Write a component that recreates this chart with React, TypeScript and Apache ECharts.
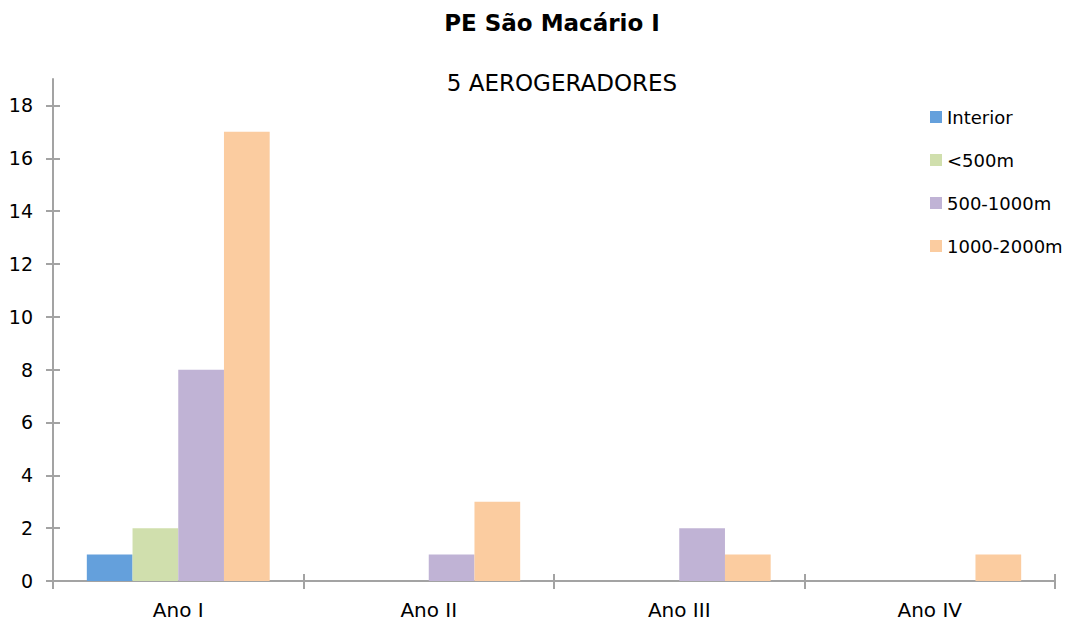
import React, { useEffect, useRef } from "react";
import * as echarts from "echarts";

const categories = ["Ano I", "Ano II", "Ano III", "Ano IV"];
const seriesNames = ["Interior", "<500m", "500-1000m", "1000-2000m"];
const interior = [1, 0, 0, 0];
const under500 = [2, 0, 0, 0];
const from500to1000 = [8, 1, 2, 0];
const from1000to2000 = [17, 3, 1, 1];
const yTicks = [0, 2, 4, 6, 8, 10, 12, 14, 16, 18];
const colors = ["#64a0dc", "#d0dfad", "#c0b3d5", "#fbcca0"];

const FONT = "DejaVu Sans";
const AXIS = "#a3a3a3";

export default function App() {
  const ref = useRef<HTMLDivElement>(null);
  useEffect(() => {
    if (!ref.current) return;
    const chart = echarts.init(ref.current, undefined, { renderer: "svg" });
    const values = [interior, under500, from500to1000, from1000to2000];
    chart.setOption({
      animation: false,
      title: [
        {
          text: "PE São Macário I",
          left: 552,
          textAlign: "center",
          top: 11,
          padding: 0,
          textStyle: { fontFamily: FONT, fontSize: 23, fontWeight: "bold", color: "#000" },
        },
        {
          text: "5 AEROGERADORES",
          left: 562,
          textAlign: "center",
          top: 71,
          padding: 0,
          textStyle: { fontFamily: FONT, fontSize: 23, fontWeight: "normal", color: "#000" },
        },
      ],
      legend: {
        orient: "vertical",
        left: 925,
        top: 103,
        itemWidth: 12,
        itemHeight: 12,
        itemGap: 25,
        icon: "rect",
        data: seriesNames,
        textStyle: { fontFamily: FONT, fontSize: 18, color: "#000" },
      },
      grid: { left: 53, right: 23, top: 79, bottom: 42, containLabel: false },
      xAxis: [
        {
          type: "category",
          data: categories,
          axisLine: { lineStyle: { color: AXIS, width: 2 } },
          axisTick: { show: true, length: 8, lineStyle: { color: AXIS, width: 2 } },
          axisLabel: { fontFamily: FONT, fontSize: 20, color: "#000", margin: 19 },
        },
        {
          type: "category",
          data: categories,
          position: "bottom",
          axisLine: { show: false },
          axisTick: { show: true, inside: true, length: 7, lineStyle: { color: AXIS, width: 2 } },
          axisLabel: { show: false },
        },
      ],
      yAxis: [
        {
          type: "value",
          min: 0,
          max: 19,
          interval: 2,
          splitLine: { show: false },
          axisLine: { show: true, lineStyle: { color: AXIS, width: 2 } },
          axisTick: {
            show: true,
            length: 7,
            customValues: yTicks,
            lineStyle: { color: AXIS, width: 2 },
          },
          axisLabel: {
            fontFamily: FONT,
            fontSize: 19,
            color: "#000",
            margin: 20,
            customValues: yTicks,
          },
        },
        {
          type: "value",
          min: 0,
          max: 19,
          interval: 2,
          position: "left",
          splitLine: { show: false },
          axisLine: { show: false },
          axisTick: {
            show: true,
            inside: true,
            length: 7,
            customValues: yTicks,
            lineStyle: { color: AXIS, width: 2 },
          },
          axisLabel: { show: false },
        },
      ],
      series: seriesNames.map((name, i) => ({
        name,
        type: "bar",
        xAxisIndex: 0,
        yAxisIndex: 0,
        data: values[i],
        barGap: "0%",
        barCategoryGap: "27%",
        itemStyle: { color: colors[i] },
      })),
    });
    return () => chart.dispose();
  }, []);
  return (
    <div
      ref={ref}
      style={{ position: "fixed", left: 0, top: 0, width: 1078, height: 623, background: "#fff" }}
    />
  );
}
